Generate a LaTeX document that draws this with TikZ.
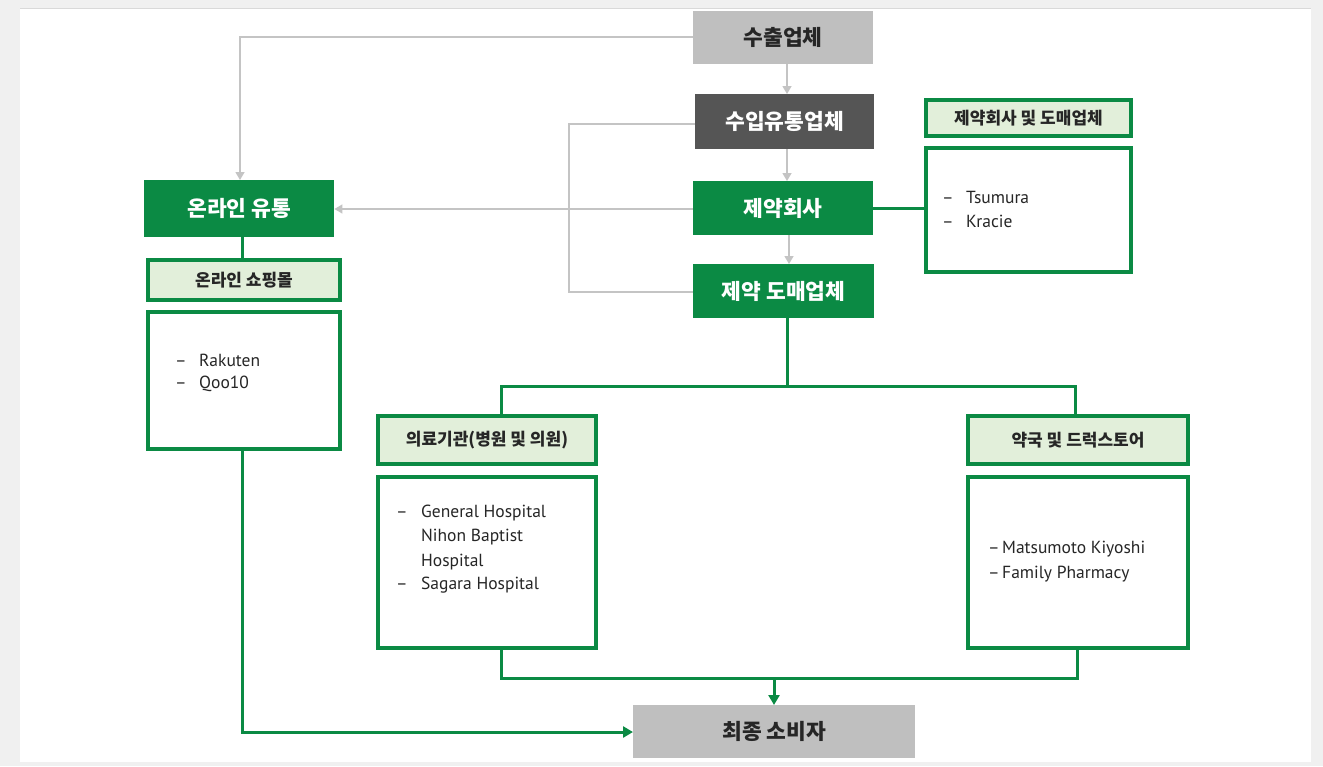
\documentclass[tikz,border=0pt]{standalone}
\usepackage{fontspec}
\setmainfont{Noto Sans CJK KR}
\newfontfamily\latinfont{PT Sans}
\usetikzlibrary{arrows.meta,positioning}
\definecolor{gr}{HTML}{0B8A44}
\definecolor{lgr}{HTML}{E2EFDA}
\definecolor{dgray}{HTML}{555555}
\definecolor{lgray}{HTML}{BFBFBF}
\definecolor{lnk}{HTML}{C4C4C4}
\definecolor{txt}{HTML}{262626}
\newcommand\dashitem[2]{\makebox[#1][l]{–}#2}
\begin{document}
\begin{tikzpicture}[x=1pt,y=-1pt,
  box/.style={draw=none,inner sep=0pt,anchor=north west,font=\fontsize{21.5}{24}\selectfont\bfseries},
  greenbox/.style={box,fill=gr,text=white},
  label/.style={draw=gr,line width=4pt,fill=lgr,inner sep=0pt,anchor=north west,text=txt,font=\fontsize{17}{20}\selectfont\bfseries},
  listbox/.style={draw=gr,line width=4pt,fill=white,inner sep=0pt,anchor=north west},
  item/.style={anchor=west,inner sep=0pt,text=txt,font=\latinfont\fontsize{17.5}{20}\selectfont},
  glink/.style={draw=lnk,line width=1.4pt},
  garr/.style={glink,-{Triangle[length=8pt,width=9pt]}},
  flink/.style={draw=gr,line width=3pt},
  farr/.style={flink,-{Triangle[length=10pt,width=11pt]}}
]
\useasboundingbox (0,0) rectangle (1323,766);
\fill[black!6] (0,0) rectangle (1323,766);
\fill[white] (20,8) rectangle (1311,762);
\draw[black!15,line width=1pt] (20,8) -- (1311,8);

% main chain
\node[box,fill=lgray,text=txt,minimum width=180pt,minimum height=53pt] (exp) at (693,11) {수출업체};
\node[box,fill=dgray,text=white,minimum width=179pt,minimum height=55pt] (imp) at (695,94) {수입유통업체};
\node[greenbox,minimum width=180pt,minimum height=54pt] (pharm) at (693,181) {제약회사};
\node[greenbox,minimum width=181pt,minimum height=54pt] (whole) at (693,264) {제약 도매업체};

% online
\node[greenbox,minimum width=190pt,minimum height=57pt] (online) at (144,180) {온라인 유통};
\node[label,minimum width=192pt,minimum height=40pt] (mall) at (146,258) {온라인 쇼핑몰};
\node[listbox,minimum width=192pt,minimum height=137pt] (malllist) at (146,310) {};
\node[item] (rak) at (175,360) {\dashitem{24pt}{Rakuten}};
\node[item] (qoo) at (175,384) {\dashitem{24pt}{Qoo10}};

% pharma companies
\node[label,minimum width=205pt,minimum height=36pt] (pclabel) at (924,98) {제약회사 및 도매업체};
\node[listbox,minimum width=205pt,minimum height=124pt] (pclist) at (924,146) {};
\node[item] (tsu) at (942,197) {\dashitem{24pt}{Tsumura}};
\node[item] (kra) at (942,221) {\dashitem{24pt}{Kracie}};

% hospitals
\node[label,minimum width=218pt,minimum height=48pt] (hosp) at (376,414) {의료기관(병원 및 의원)};
\node[listbox,minimum width=218pt,minimum height=171pt] (hosplist) at (376,475) {};
\node[item] (h1) at (396,513) {\dashitem{25pt}{General Hospital}};
\node[item] (h2) at (421,537) {Nihon Baptist};
\node[item] (h3) at (421,562) {Hospital};
\node[item] (h4) at (396,585) {\dashitem{25pt}{Sagara Hospital}};

% drugstores
\node[label,minimum width=220pt,minimum height=48pt] (drug) at (966,414) {약국 및 드럭스토어};
\node[listbox,minimum width=220pt,minimum height=171pt] (druglist) at (966,475) {};
\node[item] (d1) at (988,549) {\dashitem{14pt}{Matsumoto Kiyoshi}};
\node[item] (d2) at (988,574) {\dashitem{14pt}{Family Pharmacy}};

% consumer
\node[box,fill=lgray,text=txt,minimum width=282pt,minimum height=53pt] (cons) at (633,705) {최종 소비자};

% gray connectors
\draw[garr] (exp.south -| 787,0) -- (imp.north -| 787,0);
\draw[garr] (imp.south -| 787,0) -- (pharm.north -| 787,0);
\draw[garr] (pharm.south -| 789,0) -- (whole.north -| 789,0);
\draw[garr] (exp.west |- 0,37) -- (240,37) -- (online.north -| 240,0);
\draw[garr] (pharm.west |- 0,209) -- (online.east |- 0,209);
\draw[glink] (imp.west |- 0,124) -- (569,124) -- (569,292) -- (whole.west |- 0,292);

% green connectors
\draw[flink] (online.south -| 242,0) -- (mall.north -| 242,0);
\draw[flink] (pharm.east) -- (pclist.west |- pharm.east);
\coordinate (split) at (787,386);
\draw[flink] (whole.south -| split) -- (split);
\draw[flink] (hosp.north -| 501,0) -- (501,386) -- (1075,386) -- (drug.north -| 1075,0);
\coordinate (join) at (774,678);
\draw[flink] (hosplist.south -| 501,0) -- (501,678) -- (1077,678) -- (druglist.south -| 1077,0);
\draw[farr] (join) -- (cons.north -| join);
\draw[farr] (malllist.south -| 242,0) -- (242,732) -- (cons.west |- 0,732);
\end{tikzpicture}
\end{document}
